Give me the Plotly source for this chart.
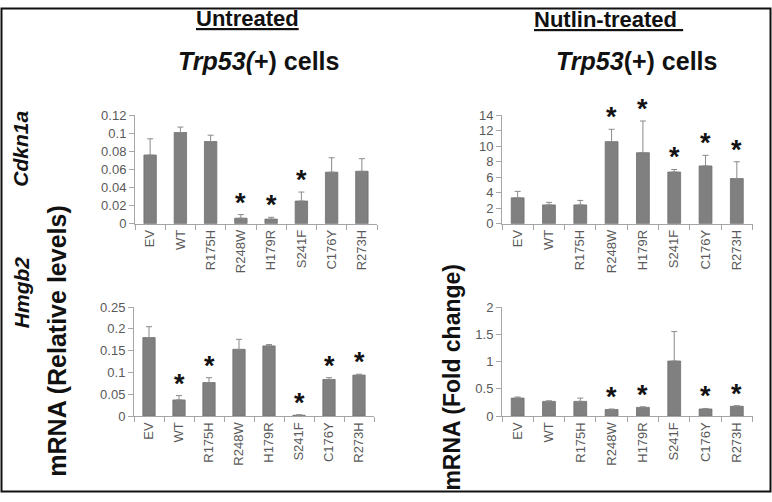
import plotly.graph_objects as go

categories = ["EV", "WT", "R175H", "R248W", "H179R", "S241F", "C176Y", "R273H"]

cdkn1a_untreated = [0.076, 0.101, 0.091, 0.006, 0.005, 0.025, 0.057, 0.058]
cdkn1a_untreated_err = [0.018, 0.006, 0.007, 0.004, 0.002, 0.010, 0.016, 0.014]
cdkn1a_untreated_sig = [False, False, False, True, True, True, False, False]

cdkn1a_nutlin = [3.33, 2.42, 2.42, 10.6, 9.17, 6.67, 7.46, 5.83]
cdkn1a_nutlin_err = [0.84, 0.33, 0.58, 1.6, 4.1, 0.33, 1.37, 2.17]
cdkn1a_nutlin_sig = [False, False, False, True, True, True, True, True]

hmgb2_untreated = [0.180, 0.037, 0.077, 0.153, 0.161, 0.002, 0.084, 0.094]
hmgb2_untreated_err = [0.025, 0.010, 0.011, 0.023, 0.003, 0.001, 0.004, 0.002]
hmgb2_untreated_sig = [False, True, True, False, False, True, True, True]

hmgb2_nutlin = [0.33, 0.27, 0.27, 0.12, 0.16, 1.01, 0.13, 0.18]
hmgb2_nutlin_err = [0.02, 0.01, 0.06, 0.01, 0.01, 0.54, 0.01, 0.01]
hmgb2_nutlin_sig = [False, False, False, True, True, False, True, True]

W, H = 772, 502
FONT = "Liberation Sans, Arial, sans-serif"
BAR = "#808080"
AX = "#a6a6a6"
TXT = "#595959"

panels = [
    # values, err, sig, x-domain px, y px (bottom, top), yrange, dtick
    (cdkn1a_untreated, cdkn1a_untreated_err, cdkn1a_untreated_sig, (135, 377), (223.3, 111.7), [0, 0.12], 0.02),
    (cdkn1a_nutlin, cdkn1a_nutlin_err, cdkn1a_nutlin_sig, (502, 752.5), (223.3, 111.7), [0, 14], 2),
    (hmgb2_untreated, hmgb2_untreated_err, hmgb2_untreated_sig, (134, 374), (421.7, 309.3), [0, 0.25], 0.05),
    (hmgb2_nutlin, hmgb2_nutlin_err, hmgb2_nutlin_sig, (502, 752.5), (421.7, 309.3), [0, 2], 0.5),
]

fig = go.Figure()
annotations = []
layout = {}
for i, (vals, errs, sig, xd, yd, yr, dt) in enumerate(panels, start=1):
    xa = "x" if i == 1 else f"x{i}"
    ya = "y" if i == 1 else f"y{i}"
    fig.add_trace(go.Bar(
        x=categories, y=vals, xaxis=xa, yaxis=ya,
        marker=dict(color=BAR, line=dict(color="#6f6f6f", width=0.8)),
        width=0.41,
        error_y=dict(type="data", symmetric=False, array=errs,
                     arrayminus=[0] * len(errs), color="#8a8a8a",
                     thickness=1, width=3),
        showlegend=False, hoverinfo="skip",
    ))
    for c, v, e, s in zip(categories, vals, errs, sig):
        if s:
            annotations.append(dict(
                x=c, y=v + e, xref=xa, yref=ya, text="<b>*</b>", showarrow=False,
                yanchor="middle", yshift=12,
                font=dict(family=FONT, size=27, color="#111111"),
            ))
    xkey = "xaxis" if i == 1 else f"xaxis{i}"
    ykey = "yaxis" if i == 1 else f"yaxis{i}"
    layout[xkey] = dict(
        domain=[xd[0] / W, xd[1] / W], anchor=ya, type="category",
        categoryorder="array", categoryarray=categories,
        showline=True, linecolor=AX, linewidth=1,
        ticks="outside", tickson="boundaries", ticklen=5, tickcolor=AX,
        tickangle=-90, tickfont=dict(family=FONT, size=13, color=TXT),
        showgrid=False, zeroline=False, fixedrange=True,
    )
    layout[ykey] = dict(
        domain=[1 - yd[0] / H, 1 - yd[1] / H], anchor=xa,
        range=yr, dtick=dt, tick0=0,
        showline=True, linecolor=AX, linewidth=1,
        ticks="outside", ticklen=5, tickcolor=AX,
        tickfont=dict(family=FONT, size=13, color=TXT),
        showgrid=False, zeroline=False, fixedrange=True,
    )

def paper_text(text, x, y, size, angle=0):
    return dict(text=text, x=x / W, y=1 - y / H, xref="paper", yref="paper",
                showarrow=False, xanchor="center", yanchor="middle",
                textangle=angle, font=dict(family=FONT, size=size, color="#111111"))

annotations += [
    paper_text("<b><u>Untreated</u></b>", 247, 12, 22),
    paper_text("<b><i>Trp53(</i>+) cells</b>", 258, 56, 25),
    paper_text("<b><u>Nutlin-treated </u></b>", 608, 13, 22),
    paper_text("<b><i>Trp53</i>(+) cells</b>", 636, 56, 25),
    paper_text("<b><i>Cdkn1a</i></b>", 21, 146, 21, -90),
    paper_text("<b><i>Hmgb2</i></b>", 21, 295, 21, -90),
    paper_text("<b>mRNA (Relative levels)</b>", 57, 345, 25, -90),
    paper_text("<b>mRNA (Fold change)</b>", 452, 382, 23, -90),
]

fig.update_layout(
    width=W, height=H, margin=dict(l=0, r=0, t=0, b=0),
    paper_bgcolor="white", plot_bgcolor="white",
    annotations=annotations,
    shapes=[dict(type="rect", xref="paper", yref="paper",
                 x0=1.5 / W, x1=1 - 1.5 / W, y0=2.5 / H, y1=1 - 1.5 / H,
                 line=dict(color="#111111", width=2))],
    bargap=0.59, hovermode=False,
    **layout,
)

fig.write_html(
    "out.html",
    config={"displayModeBar": False, "staticPlot": True},
    post_script="document.body.style.margin='0';document.body.style.overflow='hidden';",
)
